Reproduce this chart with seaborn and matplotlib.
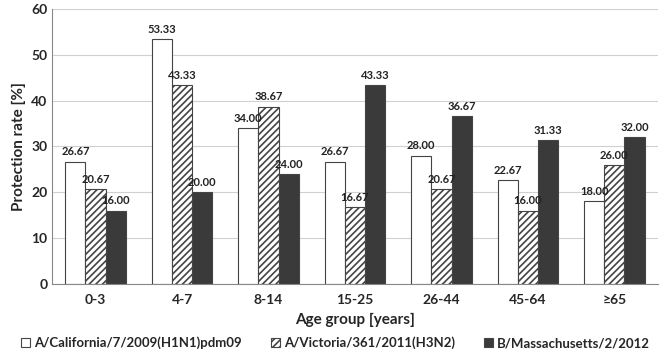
import matplotlib
matplotlib.use("Agg")
import matplotlib.pyplot as plt
from matplotlib.patches import Patch
import seaborn as sns
import pandas as pd

age_groups = ["0-3", "4-7", "8-14", "15-25", "26-44", "45-64", "≥65"]
strains = ["A/California/7/2009(H1N1)pdm09", "A/Victoria/361/2011(H3N2)", "B/Massachusetts/2/2012"]
california = [26.67, 53.33, 34.00, 26.67, 28.00, 22.67, 18.00]
victoria = [20.67, 43.33, 38.67, 16.67, 20.67, 16.00, 26.00]
massachusetts = [16.00, 20.00, 24.00, 43.33, 36.67, 31.33, 32.00]

df = pd.DataFrame({
    "age": age_groups * 3,
    "strain": [s for s in strains for _ in age_groups],
    "rate": california + victoria + massachusetts,
})

colors = ["white", "white", "#3a3a3a"]
hatches = ["", "/////", ""]

sns.set_style("white")
plt.rcParams["font.family"] = ["Lato", "DejaVu Sans"]
plt.rcParams["font.weight"] = "bold"
plt.rcParams["hatch.linewidth"] = 1.2

fig, ax = plt.subplots(figsize=(6.71, 3.54), dpi=100)
ax = sns.barplot(data=df, x="age", y="rate", hue="strain", ax=ax,
                 palette=colors, width=0.7,
                 edgecolor="#444444", linewidth=0.8, saturation=1)

for cont, h in zip(ax.containers, hatches):
    for bar in cont:
        bar.set_hatch(h)
    ax.bar_label(cont, fmt="%.2f", padding=3, fontsize=8, fontweight="bold", color="#222222")

ax.set_ylim(0, 60)
ax.set_yticks(range(0, 61, 10))
ax.yaxis.grid(True, color="#d0d0d0", linewidth=0.8)
ax.set_axisbelow(True)
ax.set_ylabel("Protection rate [%]", fontsize=11, fontweight="bold")
ax.set_xlabel("Age group [years]", fontsize=11, fontweight="bold", labelpad=5)
ax.tick_params(axis="both", labelsize=10, length=0)
ax.tick_params(axis="x", pad=7)
for lab in ax.get_xticklabels() + ax.get_yticklabels():
    lab.set_fontweight("bold")
for side in ["top", "right"]:
    ax.spines[side].set_visible(False)
for side in ["left", "bottom"]:
    ax.spines[side].set_color("#888888")
ax.set_xlim(-0.5, len(age_groups) - 0.5)
ax.set_xticks([i - 0.5 for i in range(len(age_groups) + 1)], minor=True)
ax.tick_params(axis="x", which="minor", length=4, color="#888888", direction="out")

ax.get_legend().remove()
handles = [Patch(facecolor=c, edgecolor="#444444", hatch=h, linewidth=0.8) for c, h in zip(colors, hatches)]
fig.legend(handles, strains, loc="lower center", bbox_to_anchor=(0.5, -0.02), ncol=3, frameon=False,
           handlelength=0.7, handleheight=0.7, handletextpad=0.3,
           columnspacing=2.2, prop={"weight": "bold", "size": 9.5})

plt.subplots_adjust(left=0.078, right=0.98, top=0.975, bottom=0.198)
plt.savefig("out.png", dpi=100)
